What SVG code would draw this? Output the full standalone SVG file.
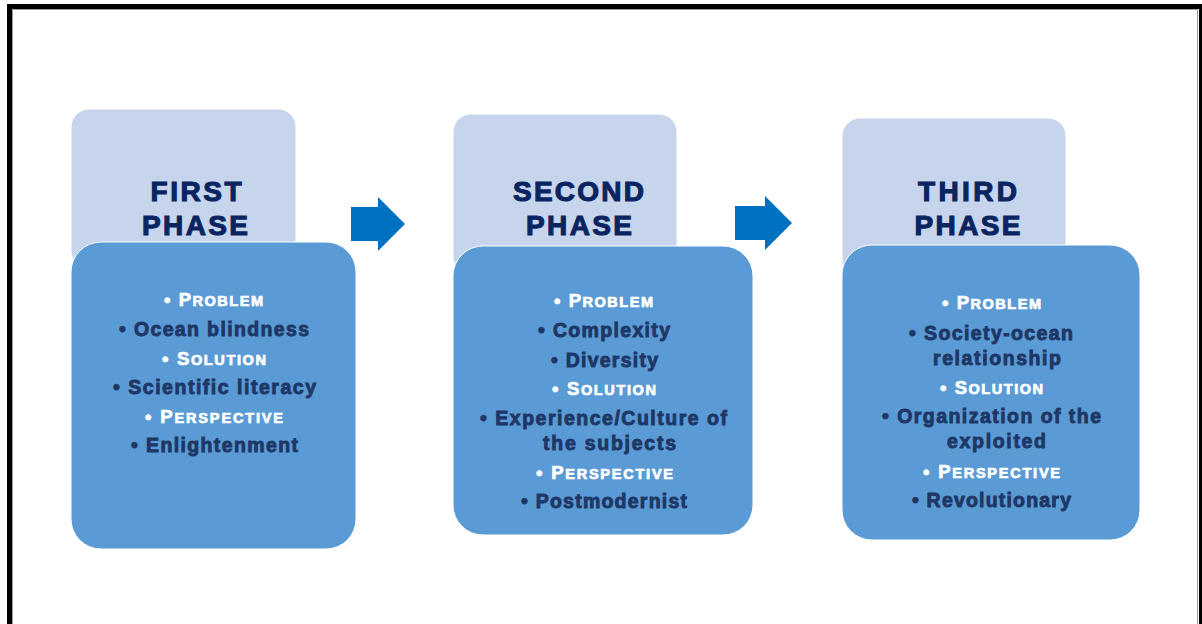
<svg xmlns="http://www.w3.org/2000/svg" width="1202" height="624" viewBox="0 0 1202 624">
  <style>
    .head { fill: #C6D5EB; stroke: #ffffff; stroke-width: 1; }
    .body { fill: #5B9BD5; stroke: #ffffff; stroke-width: 1; }
    .title { font-family: "Liberation Sans", Arial, sans-serif; font-weight: bold; font-size: 28px; fill: #0A2461; stroke: #0A2461; stroke-width: 1.1; text-anchor: middle; }
    .item { font-family: "Liberation Sans", Arial, sans-serif; font-weight: bold; font-size: 19.5px; fill: #1E3766; stroke: #1E3766; stroke-width: 0.9; text-anchor: middle; }
    .key { font-family: "Liberation Sans", Arial, sans-serif; font-weight: bold; font-size: 18.5px; fill: #ffffff; stroke: #ffffff; stroke-width: 0.7; text-anchor: middle; }
    .sc { font-size: 14.5px; }
    .arrow { fill: #0070C0; }
  </style>

  <!-- page frame -->
  <rect x="0" y="0" width="1202" height="624" fill="#ffffff"/>
  <rect x="7" y="4" width="1195" height="5" fill="#000000"/>
  <rect x="7" y="4" width="5" height="620" fill="#000000"/>
  <rect x="1199" y="4" width="3" height="620" fill="#000000"/>
  <path d="M12.5,624 V9.5 H1197.5 V624" fill="none" stroke="#9a9a9a" stroke-width="1"/>

  <!-- phase 1 -->
  <g id="phase1">
    <rect class="head" x="71" y="109" width="225" height="160" rx="18"/>
    <text class="title" x="196" y="201" textLength="91" lengthAdjust="spacing">FIRST</text>
    <text class="title" x="195" y="235" textLength="106" lengthAdjust="spacing">PHASE</text>
    <rect class="body" x="71" y="242" width="285" height="307" rx="30"/>
    <text class="key" x="213.5" y="306" textLength="99" lengthAdjust="spacing">• P<tspan class="sc">ROBLEM</tspan></text>
    <text class="item" x="214" y="336" textLength="190" lengthAdjust="spacing">• Ocean blindness</text>
    <text class="key" x="214" y="365" textLength="104" lengthAdjust="spacing">• S<tspan class="sc">OLUTION</tspan></text>
    <text class="item" x="214.5" y="394" textLength="203" lengthAdjust="spacing">• Scientific literacy</text>
    <text class="key" x="214" y="423" textLength="138" lengthAdjust="spacing">• P<tspan class="sc">ERSPECTIVE</tspan></text>
    <text class="item" x="214.5" y="452" textLength="167" lengthAdjust="spacing">• Enlightenment</text>
  </g>

  <!-- phase 2 -->
  <g id="phase2">
    <rect class="head" x="453" y="114" width="224" height="160" rx="18"/>
    <text class="title" x="578.5" y="201" textLength="131" lengthAdjust="spacing">SECOND</text>
    <text class="title" x="579" y="235" textLength="106" lengthAdjust="spacing">PHASE</text>
    <rect class="body" x="453" y="246" width="300" height="289" rx="30"/>
    <text class="key" x="603.5" y="307" textLength="99" lengthAdjust="spacing">• P<tspan class="sc">ROBLEM</tspan></text>
    <text class="item" x="604" y="337" textLength="132" lengthAdjust="spacing">• Complexity</text>
    <text class="item" x="604.5" y="367" textLength="107" lengthAdjust="spacing">• Diversity</text>
    <text class="key" x="604" y="395" textLength="104" lengthAdjust="spacing">• S<tspan class="sc">OLUTION</tspan></text>
    <text class="item" x="603.5" y="425" textLength="247" lengthAdjust="spacing">• Experience/Culture of</text>
    <text class="item" x="609.5" y="450" textLength="133" lengthAdjust="spacing">the subjects</text>
    <text class="key" x="604.5" y="479" textLength="137" lengthAdjust="spacing">• P<tspan class="sc">ERSPECTIVE</tspan></text>
    <text class="item" x="604" y="508" textLength="166" lengthAdjust="spacing">• Postmodernist</text>
  </g>

  <!-- phase 3 -->
  <g id="phase3">
    <rect class="head" x="842" y="118" width="224" height="160" rx="18"/>
    <text class="title" x="967.5" y="201" textLength="99" lengthAdjust="spacing">THIRD</text>
    <text class="title" x="967.5" y="235" textLength="106" lengthAdjust="spacing">PHASE</text>
    <rect class="body" x="842" y="245" width="298" height="295" rx="30"/>
    <text class="key" x="991.5" y="309" textLength="99" lengthAdjust="spacing">• P<tspan class="sc">ROBLEM</tspan></text>
    <text class="item" x="991" y="340" textLength="164" lengthAdjust="spacing">• Society-ocean</text>
    <text class="item" x="997" y="365" textLength="128" lengthAdjust="spacing">relationship</text>
    <text class="key" x="991.5" y="394" textLength="103" lengthAdjust="spacing">• S<tspan class="sc">OLUTION</tspan></text>
    <text class="item" x="991.5" y="423" textLength="219" lengthAdjust="spacing">• Organization of the</text>
    <text class="item" x="996.5" y="448" textLength="99" lengthAdjust="spacing">exploited</text>
    <text class="key" x="991.5" y="478" textLength="137" lengthAdjust="spacing">• P<tspan class="sc">ERSPECTIVE</tspan></text>
    <text class="item" x="991.5" y="507" textLength="159" lengthAdjust="spacing">• Revolutionary</text>
  </g>

  <!-- connectors -->
  <g id="connectors">
    <path class="arrow" d="M351,207 H378 V197 L405,224 L378,251 V241 H351 Z"/>
    <path class="arrow" d="M735,206 H765 V196 L792,223 L765,250 V240 H735 Z"/>
  </g>
</svg>
